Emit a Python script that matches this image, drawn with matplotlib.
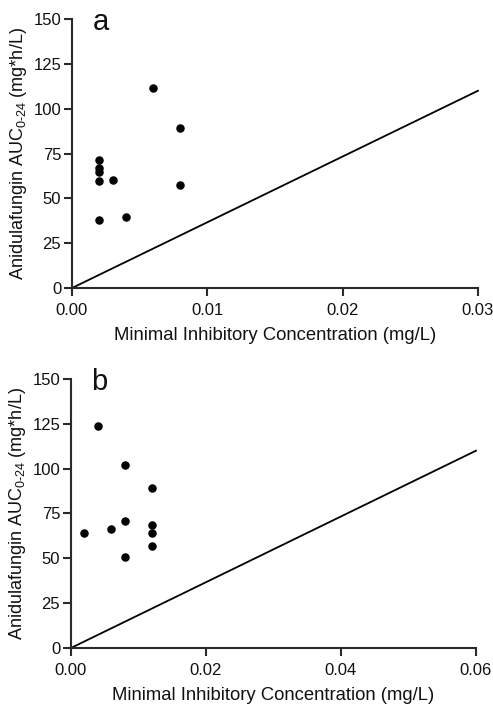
import matplotlib
matplotlib.use("Agg")
import matplotlib.pyplot as plt

plt.rcParams['font.family'] = ['Liberation Sans', 'DejaVu Sans']
plt.rcParams['mathtext.fontset'] = 'custom'
plt.rcParams['mathtext.rm'] = 'Liberation Sans'
plt.rcParams['mathtext.it'] = 'Liberation Sans'

# Panel a data
mic_a = [0.002, 0.002, 0.002, 0.002, 0.002, 0.003, 0.004, 0.006, 0.008, 0.008]
auc_a = [71.3, 67.2, 64.8, 59.8, 38.1, 60.5, 39.7, 111.4, 89.3, 57.2]
line_a_x = [0.0, 0.03]
line_a_y = [0.0, 110.0]
xticks_a = [0.00, 0.01, 0.02, 0.03]
xtlabels_a = ["0.00", "0.01", "0.02", "0.03"]

# Panel b data
mic_b = [0.002, 0.004, 0.006, 0.008, 0.008, 0.008, 0.012, 0.012, 0.012, 0.012]
auc_b = [64.2, 124.0, 66.5, 101.9, 70.7, 50.7, 89.3, 68.5, 63.9, 57.0]
line_b_x = [0.0, 0.06]
line_b_y = [0.0, 110.0]
xticks_b = [0.00, 0.02, 0.04, 0.06]
xtlabels_b = ["0.00", "0.02", "0.04", "0.06"]

yticks = [0, 25, 50, 75, 100, 125, 150]

fig = plt.figure(figsize=(4.93, 7.07), dpi=100)
ax_a = fig.add_axes([0.146, 0.5926, 0.8235, 0.3805])
ax_b = fig.add_axes([0.144, 0.0835, 0.8215, 0.3805])

ylabel = r'Anidulafungin AUC$_{\mathrm{0\text{-}24}}$ (mg*h/L)'
axcol = '#2a2a2a'

panels = [
    (ax_a, mic_a, auc_a, line_a_x, line_a_y, xticks_a, xtlabels_a, 'a'),
    (ax_b, mic_b, auc_b, line_b_x, line_b_y, xticks_b, xtlabels_b, 'b'),
]
for ax, mx, my, lx, ly, xt, xtl, lab in panels:
    ax.plot(lx, ly, color='black', lw=1.3, clip_on=False)
    ax.scatter(mx, my, s=26, color='black', zorder=3, clip_on=False)
    ax.set_xlim(xt[0], xt[-1])
    ax.set_ylim(0, 150)
    ax.set_xticks(xt)
    ax.set_xticklabels(xtl)
    ax.set_yticks(yticks)
    ax.spines['top'].set_visible(False)
    ax.spines['right'].set_visible(False)
    for s in ['left', 'bottom']:
        ax.spines[s].set_linewidth(1.5)
        ax.spines[s].set_color(axcol)
    ax.tick_params(direction='out', length=5.8, width=1.5, color=axcol,
                   labelsize=12, labelcolor='#111111')
    ax.tick_params(axis='x', pad=5)
    ax.tick_params(axis='y', pad=2)
    ax.set_xlabel('Minimal Inhibitory Concentration (mg/L)', fontsize=13.3,
                  labelpad=6.5, color='#111111')
    ax.set_ylabel(ylabel, fontsize=13, labelpad=3, color='#111111')
    ax.text(0.05, 0.989, lab, transform=ax.transAxes, fontsize=21,
            ha='left', va='center', color='#111111')

fig.savefig('out.png', dpi=100)
